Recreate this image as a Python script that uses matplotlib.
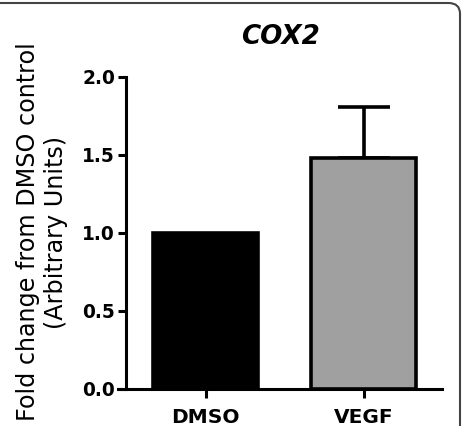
import numpy as np
import matplotlib
matplotlib.use("Agg")
import matplotlib.pyplot as plt
from matplotlib.patches import FancyBboxPatch

# --- dados ---
grupos = ["DMSO", "VEGF"]
valores = [1.0, 1.48]
erros = [0.0, 0.33]
cores = ["#000000", "#a0a0a0"]
yticks = [0.0, 0.5, 1.0, 1.5, 2.0]

fig = plt.figure(figsize=(4.63, 4.26), dpi=100)
ax = fig.add_axes([0.2549, 0.0869, 0.6998, 0.7324])

# eixos no estilo GraphPad (posicionar antes dos rótulos, senão eles são resetados)
for s in ["top", "right"]:
    ax.spines[s].set_visible(False)
ax.spines["left"].set_position(("data", -0.503))
ax.spines["left"].set_linewidth(2.2)
ax.spines["bottom"].set_linewidth(2.2)

x = np.arange(len(grupos))
ax.bar(x, valores, width=0.67, color=cores, edgecolor="black", linewidth=2.6, zorder=2)

# barra de erro só para cima
for xi, v, e in zip(x, valores, erros):
    if e > 0:
        ax.errorbar(xi, v, yerr=[[0], [e]], fmt="none", ecolor="black",
                    elinewidth=2.6, capsize=18.5, capthick=2.6, zorder=1)

ax.set_xlim(-0.554, 1.497)
ax.set_ylim(0, 2.0)
ax.set_xticks(x)
ax.set_xticklabels(grupos, fontsize=14.5, fontweight="bold")
ax.set_yticks(yticks)
ax.set_yticklabels([f"{t:.1f}" for t in yticks], fontsize=13.4, fontweight="bold")
ax.tick_params(axis="y", length=6, width=2.2, pad=2)
ax.tick_params(axis="x", length=6.5, width=2.2, pad=7)

ax.set_title("COX2", fontsize=18.8, fontweight="bold", fontstyle="italic", pad=24)

fig.text(42 / 463, 1 - 232 / 426, "Fold change from DMSO control\n(Arbitrary Units)",
         rotation=90, ha="center", va="center", multialignment="center",
         fontsize=17.2, linespacing=1.25)

# moldura arredondada da figura original
moldura = FancyBboxPatch((-0.05, -0.1), 0.05 + 460 / 463, 0.1 + 1 - 3 / 426,
                         boxstyle="round,pad=0,rounding_size=0.025",
                         transform=fig.transFigure, fill=False,
                         edgecolor="#444444", linewidth=1.5, clip_on=False)
fig.patches.append(moldura)

fig.savefig("out.png", dpi=100)
